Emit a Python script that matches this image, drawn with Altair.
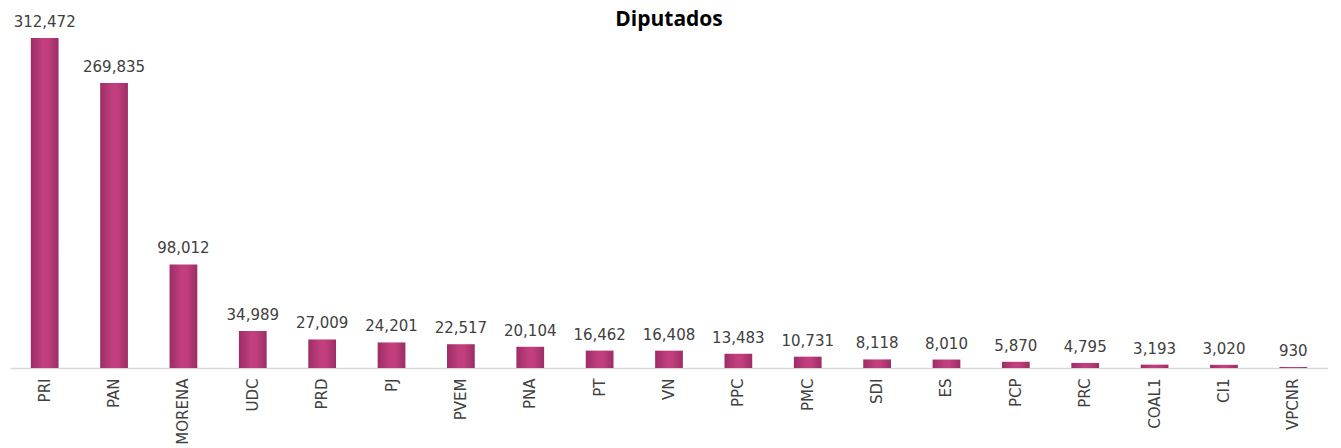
import altair as alt
import pandas as pd

partidos = ["PRI", "PAN", "MORENA", "UDC", "PRD", "PJ", "PVEM", "PNA", "PT", "VN",
            "PPC", "PMC", "SDI", "ES", "PCP", "PRC", "COAL1", "CI1", "VPCNR"]
votos = [312472, 269835, 98012, 34989, 27009, 24201, 22517, 20104, 16462, 16408,
         13483, 10731, 8118, 8010, 5870, 4795, 3193, 3020, 930]
titulo = "Diputados"

df = pd.DataFrame({"partido": partidos, "votos": votos})

FONT = "DejaVu Sans"

x = alt.X("partido:N", sort=partidos, title=None,
          scale=alt.Scale(paddingInner=0.6, paddingOuter=0.3),
          axis=alt.Axis(labelAngle=-90, labelFontSize=15, labelFont=FONT,
                        labelColor="#404040", ticks=False, domainColor="#d9d9d9",
                        domainWidth=1.5, labelPadding=10))
y = alt.Y("votos:Q", title=None, scale=alt.Scale(domain=[0, 312472], nice=False),
          axis=None)

bars = alt.Chart(df).mark_bar(
    color=alt.Gradient(
        gradient="linear", x1=0, x2=1, y1=0, y2=0,
        stops=[alt.GradientStop(color="#9c2e64", offset=0),
               alt.GradientStop(color="#c23f7f", offset=0.45),
               alt.GradientStop(color="#c23f7f", offset=0.6),
               alt.GradientStop(color="#9c2e64", offset=1)])
).encode(x=x, y=y)

labels = alt.Chart(df).mark_text(
    baseline="bottom", dy=-8, fontSize=15, font=FONT, color="#404040"
).encode(x=x, y=y, text=alt.Text("votos:Q", format=","))

title_mark = alt.Chart(pd.DataFrame({"t": [titulo]})).mark_text(
    font="Open Sans", fontSize=21, fontWeight="bold", color="#000000",
    baseline="middle", align="center"
).encode(x=alt.value(659), y=alt.value(-18), text="t:N")

chart = (bars + labels + title_mark).properties(
    width=1318, height=330,
    autosize=alt.AutoSizeParams(type="none"),
    padding={"left": 2, "top": 30, "right": 0, "bottom": 80},
).configure_view(stroke=None)

chart.save("out.html", embed_options={"renderer": "svg", "actions": False})
